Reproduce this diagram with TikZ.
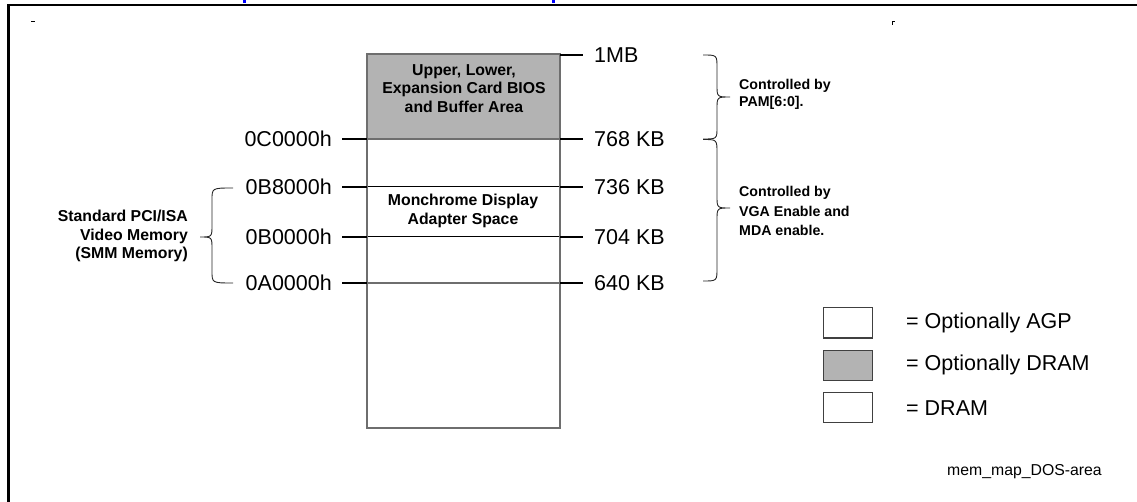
\documentclass[tikz,border=0pt]{standalone}
\usepackage{fontspec}
\setmainfont{Liberation Sans}
\definecolor{dgrey}{RGB}{179,179,179}
\definecolor{edge}{RGB}{110,110,110}
\begin{document}
\begin{tikzpicture}[x=1pt,y=-1pt,
  lbl/.style={font=\fontsize{21.5}{24}\selectfont, inner sep=0pt},
  bl/.style={font=\fontsize{15.8}{18.5}\selectfont\bfseries, inner sep=0pt},
  blr/.style={font=\fontsize{14.2}{16.5}\selectfont\bfseries, inner sep=0pt},
  small/.style={font=\fontsize{15.8}{18.5}\selectfont, inner sep=0pt},
  tickline/.style={line width=2pt, black},
  coledge/.style={draw=edge, line width=1.5pt},
  bracepath/.style={line width=0.9pt, black!85},
  legbox/.style={draw=black!75, line width=1pt, minimum width=49pt, minimum height=30pt, inner sep=0pt}]
\useasboundingbox (0,0) rectangle (1137,502);
% frame
\draw[line width=2.5pt] (8.5,505) -- (8.5,5) -- (1140,5);
% tiny marks
\draw[line width=1pt] (31,22) -- (35,22);
\draw[line width=1pt] (892,22) -- (894.5,22) (892.5,22) -- (892.5,25);
\fill[blue] (243,0) rectangle (246,3);
\fill[blue] (552,0) rectangle (555,3);
% column
\fill[dgrey] (367,54) rectangle (560,139);
\draw[black, line width=1pt] (367,187) -- (560,187);
\draw[black, line width=1pt] (367,237) -- (560,237);
\draw[coledge] (367,283) -- (560,283);
\draw[coledge] (367,139) -- (560,139);
\draw[coledge] (367,54) rectangle (560,428);
% coordinates
\foreach \n/\y in {a/55,b/139,c/187,d/237,e/283}{
  \coordinate (r\n1) at (560,\y);
  \coordinate (r\n2) at (583,\y);
}
\foreach \n/\y in {b/139,c/187,d/237,e/283}{
  \coordinate (l\n1) at (342,\y);
  \coordinate (l\n2) at (367,\y);
}
\foreach \n in {a,b,c,d,e}{\draw[tickline] (r\n1) -- (r\n2);}
\foreach \n in {b,c,d,e}{\draw[tickline] (l\n1) -- (l\n2);}
% right labels
\node[lbl, anchor=west] (mb1) at (594,55) {1MB};
\node[lbl, anchor=west] (k768) at (594,139) {768 KB};
\node[lbl, anchor=west] (k736) at (594,187) {736 KB};
\node[lbl, anchor=west] (k704) at (594,237) {704 KB};
\node[lbl, anchor=west] (k640) at (594,283) {640 KB};
% left labels
\node[lbl, anchor=east] (h0C) at (332,139) {0C0000h};
\node[lbl, anchor=east] (h0B8) at (332,187) {0B8000h};
\node[lbl, anchor=east] (h0B0) at (332,237) {0B0000h};
\node[lbl, anchor=east] (h0A) at (332,283) {0A0000h};
% column texts
\node[bl, align=center] (bios) at (464,88.5) {Upper, Lower,\\Expansion Card BIOS\\and Buffer Area};
\node[bl, align=center] (mda) at (463,211) {Monchrome Display\\Adapter Space};
\node[bl, align=right, anchor=east] (vid) at (188,236) {Standard PCI/ISA\\Video Memory\\(SMM Memory)};
\node[blr, align=left, anchor=west] (pam) at (739,94.5) {Controlled by\\PAM[6:0].};
\node[blr, align=left, anchor=west, font=\fontsize{14.2}{19.5}\selectfont\bfseries] (vga) at (739,211) {Controlled by\\VGA Enable and\\MDA enable.};
% braces
\draw[bracepath] (703,55) .. controls (717,55) .. (717,68) -- (717,85) .. controls (717,97) .. (730,97)
  .. controls (717,97) .. (717,109) -- (717,127) .. controls (717,139) .. (703,139);
\draw[bracepath] (703,139.5) .. controls (717,139.5) .. (717,153) -- (717,196) .. controls (717,208) .. (730,208)
  .. controls (717,208) .. (717,220) -- (717,268) .. controls (717,281) .. (703,281);
\draw[bracepath] (233,188) .. controls (212,188) .. (212,200) -- (212,225) .. controls (212,237) .. (200,237)
  .. controls (212,237) .. (212,249) -- (212,271) .. controls (212,283) .. (233,283);
% legend
\node[legbox, fill=white] (lg1) at (847.5,323) {};
\node[legbox, fill=dgrey] (lg2) at (847.5,365) {};
\node[legbox, fill=white] (lg3) at (847.5,407.5) {};
\node[lbl, anchor=west] (lt1) at (906,323) {= Optionally AGP};
\node[lbl, anchor=west] (lt2) at (906,365) {= Optionally DRAM};
\node[lbl, anchor=west] (lt3) at (906,408) {= DRAM};
\node[small, anchor=west] (fig) at (947,472) {mem\_map\_DOS-area};
\end{tikzpicture}
\end{document}
